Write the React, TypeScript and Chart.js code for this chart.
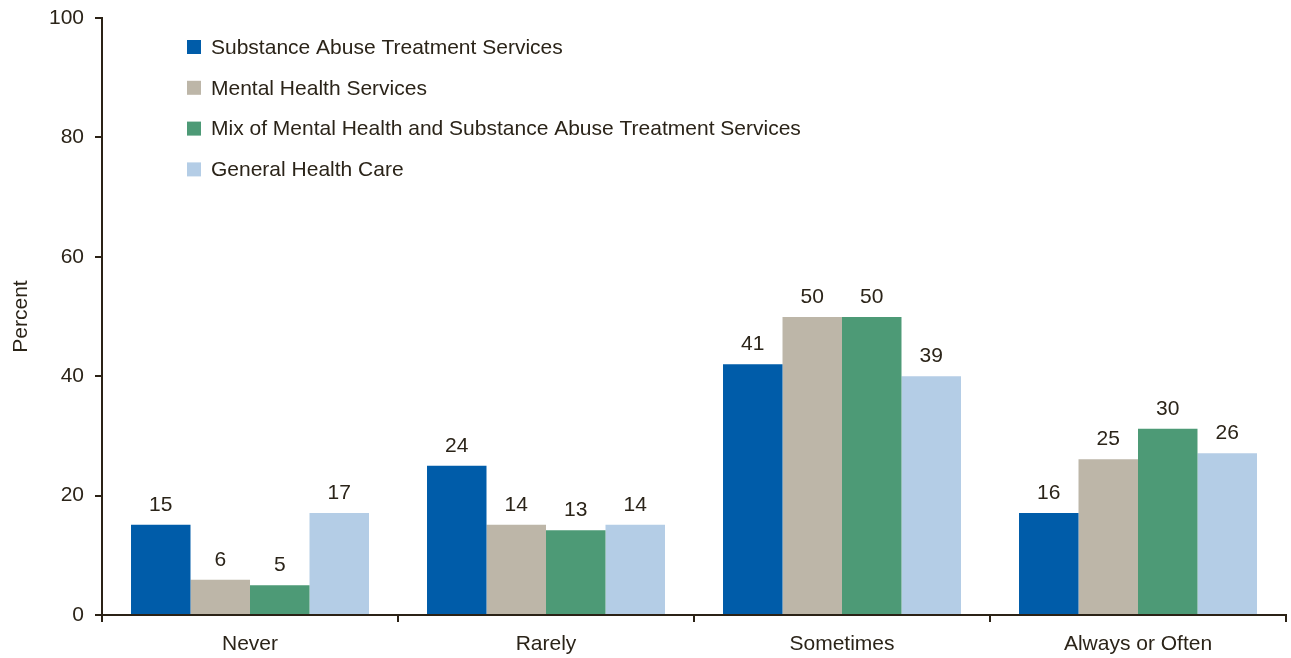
import React, { useEffect, useRef } from "react";
import { Chart, registerables } from "chart.js";

Chart.register(...registerables);

const categories = ["Never", "Rarely", "Sometimes", "Always or Often"];
const seriesNames = [
  "Substance Abuse Treatment Services",
  "Mental Health Services",
  "Mix of Mental Health and Substance Abuse Treatment Services",
  "General Health Care",
];
// bar heights
const substanceValues = [15.1, 25.0, 42.0, 17.1];
const mentalValues = [5.9, 15.1, 49.9, 26.1];
const mixValues = [5.0, 14.2, 49.9, 31.2];
const generalValues = [17.1, 15.1, 40.0, 27.1];
// printed value labels
const substanceLabels = ["15", "24", "41", "16"];
const mentalLabels = ["6", "14", "50", "25"];
const mixLabels = ["5", "13", "50", "30"];
const generalLabels = ["17", "14", "39", "26"];
const yTicks = [0, 20, 40, 60, 80, 100];

const colors = ["#005ca9", "#bdb6a8", "#4d9a76", "#b4cde6"];
const TEXT = "#2b2419";
const AXIS = "#2b2216";
const FONT = "'Liberation Sans', Arial, Helvetica, sans-serif";

const allLabels = [substanceLabels, mentalLabels, mixLabels, generalLabels];

const valueLabelPlugin = {
  id: "valueLabels",
  afterDatasetsDraw(chart: any) {
    const ctx = chart.ctx;
    ctx.save();
    ctx.fillStyle = TEXT;
    ctx.font = `21px ${FONT}`;
    ctx.textAlign = "center";
    ctx.textBaseline = "alphabetic";
    chart.data.datasets.forEach((ds: any, di: number) => {
      const meta = chart.getDatasetMeta(di);
      meta.data.forEach((bar: any, i: number) => {
        ctx.fillText(allLabels[di][i], bar.x, bar.y - 14);
      });
    });
    ctx.restore();
  },
};

const innerLegendPlugin = {
  id: "innerLegend",
  afterDraw(chart: any) {
    const ctx = chart.ctx;
    const { left, top } = chart.chartArea;
    ctx.save();
    ctx.font = `21px ${FONT}`;
    ctx.textAlign = "left";
    ctx.textBaseline = "middle";
    chart.data.datasets.forEach((ds: any, i: number) => {
      const cy = top + 29 + i * 40.8;
      ctx.fillStyle = ds.backgroundColor;
      ctx.fillRect(left + 85, cy - 7, 14, 14);
      ctx.fillStyle = TEXT;
      ctx.fillText(ds.label, left + 109, cy + 1);
    });
    ctx.restore();
  },
};

export default function App() {
  const canvasRef = useRef<HTMLCanvasElement | null>(null);

  useEffect(() => {
    document.body.style.margin = "0";
    const values = [substanceValues, mentalValues, mixValues, generalValues];
    const chart = new Chart(canvasRef.current as HTMLCanvasElement, {
      type: "bar",
      data: {
        labels: categories,
        datasets: seriesNames.map((name, i) => ({
          label: name,
          data: values[i],
          backgroundColor: colors[i],
          borderWidth: 0,
          barPercentage: 1,
          categoryPercentage: 0.804,
        })),
      },
      options: {
        animation: false,
        responsive: true,
        maintainAspectRatio: false,
        layout: { padding: { top: 18, right: 5, left: 0, bottom: 0 } },
        plugins: {
          legend: { display: false },
          tooltip: { enabled: false },
        },
        scales: {
          x: {
            offset: true,
            grid: {
              offset: true,
              drawOnChartArea: false,
              drawTicks: true,
              tickLength: 7,
              color: AXIS,
              lineWidth: 2,
            },
            border: { display: true, color: AXIS, width: 2 },
            ticks: {
              color: TEXT,
              font: { family: FONT, size: 21 },
              padding: 10,
              maxRotation: 0,
            },
            afterFit: (scale: any) => {
              scale.height = 43;
            },
          },
          y: {
            min: 0,
            max: 100,
            afterBuildTicks: (scale: any) => {
              scale.ticks = yTicks.map((v) => ({ value: v }));
            },
            grid: {
              drawOnChartArea: false,
              drawTicks: true,
              tickLength: 7,
              color: AXIS,
              lineWidth: 2,
            },
            border: { display: true, color: AXIS, width: 2 },
            ticks: {
              color: TEXT,
              font: { family: FONT, size: 21 },
              padding: 11,
            },
            title: {
              display: true,
              text: "Percent",
              color: TEXT,
              font: { family: FONT, size: 21 },
              padding: { top: 9, bottom: 0 },
            },
            afterFit: (scale: any) => {
              scale.width = 102;
              scale.paddingTop = 0;
              scale.paddingBottom = 0;
            },
          },
        },
      },
      plugins: [valueLabelPlugin, innerLegendPlugin],
    });
    return () => chart.destroy();
  }, []);

  return (
    <div style={{ width: "1291px", height: "658px", position: "relative" }}>
      <canvas ref={canvasRef} />
    </div>
  );
}
